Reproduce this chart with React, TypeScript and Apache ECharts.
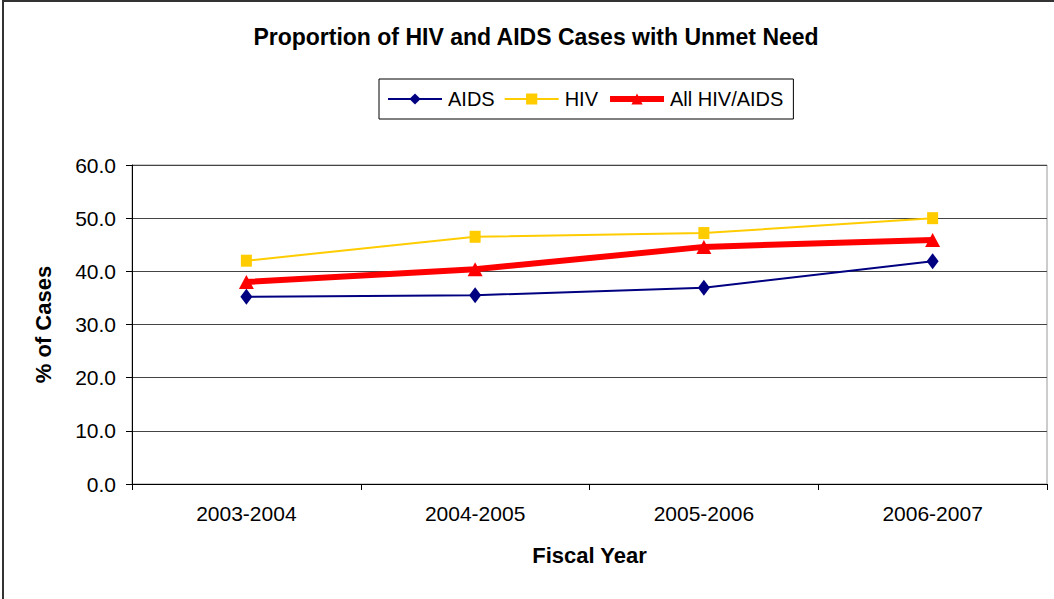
import React, { useEffect, useRef } from "react";
import * as echarts from "echarts";

const categories = ["2003-2004", "2004-2005", "2005-2006", "2006-2007"];
const aids = [35.2, 35.5, 36.9, 41.9];
const hiv = [42.0, 46.5, 47.2, 50.0];
const allHivAids = [38.0, 40.4, 44.6, 45.9];
const yTicks = [0, 10, 20, 30, 40, 50, 60];

const FONT = "'Liberation Sans', Arial, sans-serif";

export default function App() {
  const ref = useRef<HTMLDivElement>(null);
  useEffect(() => {
    if (!ref.current) return;
    const chart = echarts.init(ref.current, null, { renderer: "svg" });
    chart.setOption({
      animation: false,
      backgroundColor: "#fff",
      textStyle: { fontFamily: FONT },
      title: {
        text: "Proportion of HIV and AIDS Cases with Unmet Need",
        left: 536,
        textAlign: "center",
        top: 25,
        padding: 0,
        textStyle: { fontFamily: FONT, fontSize: 23, fontWeight: "bold", color: "#000" },
      },
      legend: {
        left: 379,
        top: 79,
        height: 42,
        padding: [10, 10, 10, 8],
        itemGap: 9,
        itemWidth: 54,
        itemHeight: 14,
        borderColor: "#000",
        borderWidth: 1,
        textStyle: { fontFamily: FONT, fontSize: 20, color: "#000", padding: [0, 0, 0, 1] },
        data: [
          { name: "AIDS" },
          { name: "HIV" },
          { name: "All HIV/AIDS", lineStyle: { width: 6 } },
        ],
      },
      graphic: [
        {
          type: "rect",
          shape: { x: 3, y: 1, width: 1060, height: 610 },
          style: { fill: "none", stroke: "#333", lineWidth: 2 },
          silent: true,
        },
      ],
      grid: {
        left: 132,
        right: 7,
        top: 165,
        bottom: 115,
        show: true,
        borderColor: "#999",
        borderWidth: 1,
      },
      xAxis: {
        type: "category",
        data: categories,
        boundaryGap: true,
        name: "Fiscal Year",
        nameLocation: "middle",
        nameGap: 60,
        nameTextStyle: { fontFamily: FONT, fontSize: 22, fontWeight: "bold", color: "#000" },
        axisLine: { lineStyle: { color: "#000", width: 1 } },
        axisTick: { show: true, inside: false, length: 6, alignWithLabel: false, lineStyle: { color: "#000" } },
        axisLabel: { fontFamily: FONT, fontSize: 21, color: "#000", margin: 19 },
      },
      yAxis: {
        type: "value",
        min: 0,
        max: 60,
        interval: 10,
        name: "% of Cases",
        nameLocation: "middle",
        nameGap: 78,
        nameTextStyle: { fontFamily: FONT, fontSize: 22, fontWeight: "bold", color: "#000" },
        axisLine: { show: true, lineStyle: { color: "#000", width: 1 } },
        axisTick: { show: true, inside: false, length: 6, lineStyle: { color: "#000" } },
        axisLabel: {
          fontFamily: FONT,
          fontSize: 21,
          color: "#000",
          margin: 16,
          formatter: (v: number) => (yTicks.includes(v) ? v.toFixed(1) : ""),
        },
        splitLine: { show: true, lineStyle: { color: "#444", width: 1 } },
      },
      series: [
        {
          name: "AIDS",
          type: "line",
          data: aids,
          symbol: "diamond",
          symbolSize: [12, 16],
          itemStyle: { color: "#000080" },
          lineStyle: { color: "#000080", width: 2 },
          z: 3,
        },
        {
          name: "HIV",
          type: "line",
          data: hiv,
          symbol: "rect",
          symbolSize: [11, 12],
          itemStyle: { color: "#FFCC00" },
          lineStyle: { color: "#FFCC00", width: 2 },
          z: 3,
        },
        {
          name: "All HIV/AIDS",
          type: "line",
          data: allHivAids,
          symbol: "triangle",
          symbolSize: [15, 14],
          itemStyle: { color: "#FF0000" },
          lineStyle: { color: "#FF0000", width: 6 },
          z: 4,
        },
      ],
    });
    return () => chart.dispose();
  }, []);
  return <div ref={ref} style={{ position: "fixed", left: 0, top: 0, width: 1054, height: 599 }} />;
}
